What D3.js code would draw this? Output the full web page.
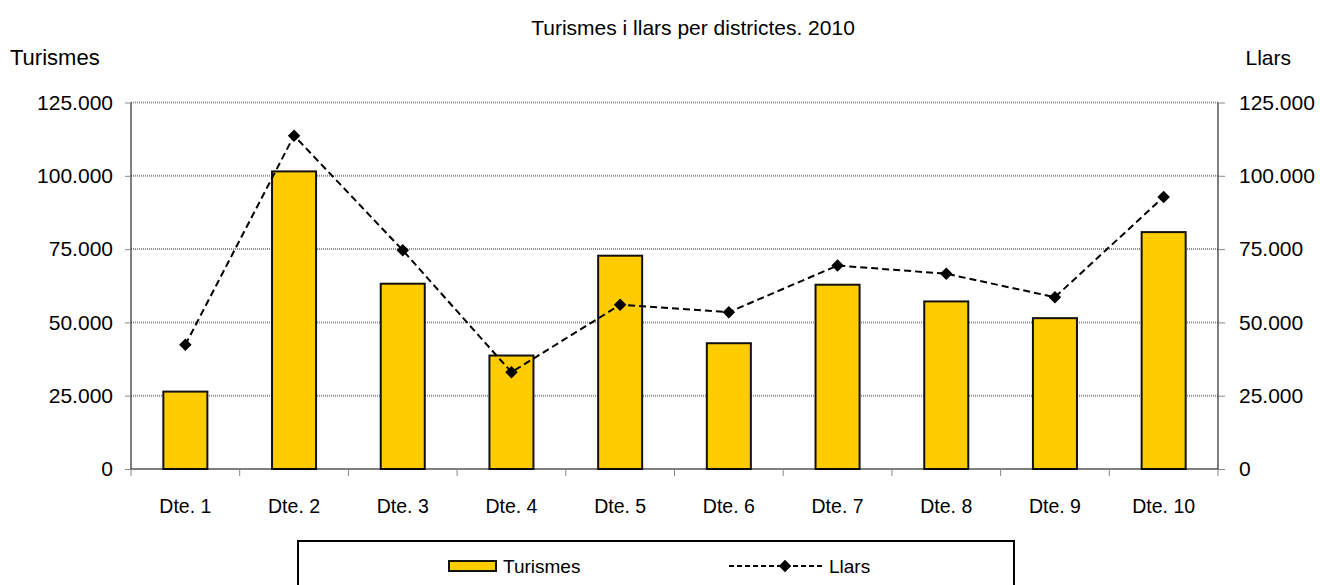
<html>
<head>
    <meta charset="UTF-8">
    <title>Turismes i llars per districtes. 2010</title>
    <style>
        body { margin: 0; background: #fff; }
        text { font-family: "Liberation Sans", Arial, sans-serif; fill: #000; }
    </style>
</head>
<body>
<script src="https://d3js.org/d3.v7.min.js"></script>
<div id="chart"></div>
<script>
    // data
    var districtes = ["Dte. 1", "Dte. 2", "Dte. 3", "Dte. 4", "Dte. 5", "Dte. 6", "Dte. 7", "Dte. 8", "Dte. 9", "Dte. 10"];
    var turismes = [26400, 101500, 63200, 38700, 72750, 42900, 62850, 57150, 51450, 80800];
    var llars = [42350, 113700, 74600, 33000, 56000, 53500, 69400, 66600, 58600, 92800];
    var yTicks = [0, 25000, 50000, 75000, 100000, 125000];

    var outerWidth = 1320, outerHeight = 585;
    var margin = {top: 102.5, right: 102, bottom: 116, left: 131};
    var width = outerWidth - margin.left - margin.right,
        height = outerHeight - margin.top - margin.bottom;

    var locale = d3.formatLocale({decimal: ",", thousands: ".", grouping: [3], currency: ["", ""]});
    var fmt = locale.format(",d");

    var svg = d3.select("#chart").append("svg")
        .attr("width", outerWidth)
        .attr("height", outerHeight);

    var g = svg.append("g")
        .attr("transform", `translate(${margin.left},${margin.top})`);

    var x = d3.scaleBand().domain(districtes).range([0, width]);
    var yL = d3.scaleLinear().domain([0, 125000]).range([height, 0]);
    var yR = d3.scaleLinear().domain([0, 125000]).range([height, 0]);

    // gridlines
    g.append("g")
        .selectAll("line")
        .data(yTicks.filter(d => d > 0))
        .join("line")
        .attr("x1", 0).attr("x2", width)
        .attr("y1", d => yL(d)).attr("y2", d => yL(d))
        .attr("stroke", "#8c8c8c")
        .attr("stroke-width", 2)
        .attr("stroke-dasharray", "1,1");

    // left axis
    var axL = g.append("g")
        .call(d3.axisLeft(yL).tickValues(yTicks).tickFormat(fmt).tickSize(6).tickPadding(12));
    axL.select(".domain").attr("stroke", "#000").attr("d", `M0,${height}V0`);
    axL.selectAll("text").style("font-size", "21px").attr("font-family", null);
    axL.selectAll(".tick line").attr("stroke", "#888");

    // right axis
    var axR = g.append("g")
        .attr("transform", `translate(${width},0)`)
        .call(d3.axisRight(yR).tickValues(yTicks).tickFormat(fmt).tickSize(7).tickPadding(14));
    axR.select(".domain").attr("stroke", "#000").attr("d", `M0,${height}V0`);
    axR.selectAll("text").style("font-size", "21px").attr("font-family", null);
    axR.selectAll(".tick line").attr("stroke", "#888");

    // bars
    var barW = x.bandwidth() * 0.405;
    g.append("g")
        .selectAll("rect")
        .data(turismes)
        .join("rect")
        .attr("x", (d, i) => x(districtes[i]) + (x.bandwidth() - barW) / 2)
        .attr("y", d => yL(d))
        .attr("width", barW)
        .attr("height", d => height - yL(d))
        .attr("fill", "#FFCC00")
        .attr("stroke", "#111")
        .attr("stroke-width", 2);

    // x axis
    var axX = g.append("g")
        .attr("transform", `translate(0,${height})`)
        .call(d3.axisBottom(x).tickSize(0).tickPadding(30));
    axX.select(".domain").attr("stroke", "#000").attr("d", `M0,0H${width}`);
    axX.selectAll("text").style("font-size", "19.5px").attr("font-family", null);
    g.append("g")
        .selectAll("line")
        .data(districtes.concat(["end"]))
        .join("line")
        .attr("x1", (d, i) => i < districtes.length ? x(d) : width)
        .attr("x2", (d, i) => i < districtes.length ? x(d) : width)
        .attr("y1", height).attr("y2", height + 7)
        .attr("stroke", "#888");

    // line
    var line = d3.line()
        .x((d, i) => x(districtes[i]) + x.bandwidth() / 2)
        .y(d => yR(d));
    g.append("path")
        .datum(llars)
        .attr("d", line)
        .attr("fill", "none")
        .attr("stroke", "#000")
        .attr("stroke-width", 2)
        .attr("stroke-dasharray", "7,4");

    var diamond = d3.symbol().type(d3.symbolSquare).size(78);
    g.append("g")
        .selectAll("path")
        .data(llars)
        .join("path")
        .attr("d", diamond)
        .attr("transform", (d, i) => `translate(${x(districtes[i]) + x.bandwidth() / 2},${yR(d)}) rotate(45)`)
        .attr("fill", "#000");

    // titles
    svg.append("text")
        .attr("x", 693).attr("y", 35)
        .attr("text-anchor", "middle")
        .style("font-size", "21px")
        .text("Turismes i llars per districtes. 2010");
    svg.append("text")
        .attr("x", 10).attr("y", 65)
        .style("font-size", "22px")
        .text("Turismes");
    svg.append("text")
        .attr("x", 1291).attr("y", 65)
        .attr("text-anchor", "end")
        .style("font-size", "21px")
        .text("Llars");

    // legend
    var leg = svg.append("g").attr("transform", "translate(298,541)");
    leg.append("rect")
        .attr("x", 0).attr("y", 0)
        .attr("width", 716).attr("height", 60)
        .attr("fill", "#fff")
        .attr("stroke", "#000")
        .attr("stroke-width", 2);
    leg.append("rect")
        .attr("x", 151).attr("y", 20)
        .attr("width", 47).attr("height", 10)
        .attr("fill", "#FFCC00")
        .attr("stroke", "#111")
        .attr("stroke-width", 2);
    leg.append("text")
        .attr("x", 205).attr("y", 32)
        .style("font-size", "19px")
        .text("Turismes");
    leg.append("line")
        .attr("x1", 431).attr("x2", 525)
        .attr("y1", 25).attr("y2", 25)
        .attr("stroke", "#000")
        .attr("stroke-width", 2)
        .attr("stroke-dasharray", "5,3");
    leg.append("path")
        .attr("d", diamond)
        .attr("transform", "translate(487,25) rotate(45)")
        .attr("fill", "#000");
    leg.append("text")
        .attr("x", 531).attr("y", 32)
        .style("font-size", "19px")
        .text("Llars");
</script>
</body>
</html>
